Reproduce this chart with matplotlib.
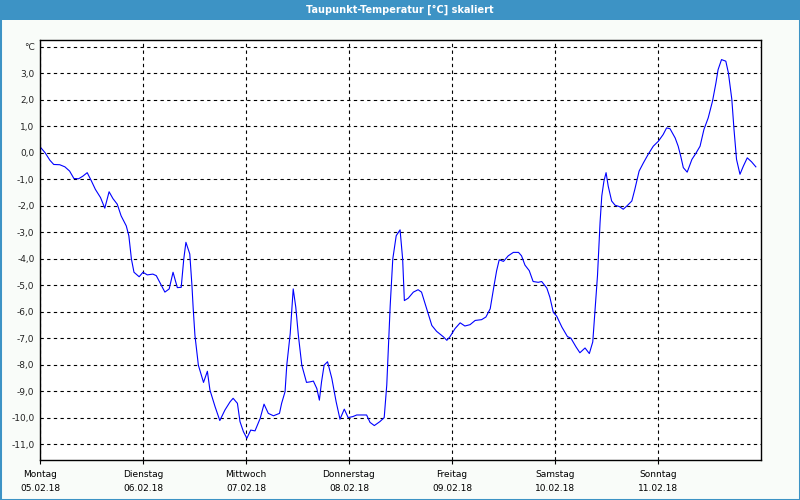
import matplotlib
matplotlib.use("Agg")
import matplotlib.pyplot as plt
from matplotlib.patches import Rectangle

# ---- data (hours since Monday 05.02.18 00:00, dew point in °C) ----
hours = [0.0, 1.2, 2.3, 3.2, 4.6, 5.8, 6.9, 7.9, 9.0, 10.0, 11.0, 12.0, 12.9, 14.1,
         15.1, 16.1, 17.0, 18.0, 18.9, 20.1, 20.7, 21.3, 21.9, 23.1, 24.0, 25.0,
         26.3, 27.1, 28.1, 29.1, 30.1, 31.0, 32.0, 32.9, 33.5, 34.0, 34.9, 35.4,
         35.7, 36.1, 36.9, 38.1, 39.0, 39.6, 40.8, 41.9, 43.1, 44.3, 45.0, 46.0,
         46.6, 47.4, 48.2, 49.1, 50.1, 51.3, 52.2, 53.2, 54.4, 55.8, 56.3, 57.1,
         57.5, 58.3, 59.0, 59.6, 60.2, 61.0, 62.1, 62.9, 63.7, 64.5, 65.1, 65.6,
         66.2, 67.0, 68.0, 69.0, 69.9, 70.9, 71.8, 72.9, 73.8, 76.1, 76.9, 77.9,
         79.2, 80.2, 80.8, 81.2, 81.6, 82.2, 83.0, 83.9, 84.5, 84.9, 85.8, 87.0,
         88.1, 88.9, 90.1, 91.3, 92.4, 94.0, 94.8, 95.5, 96.7, 97.9, 99.0, 100.2,
         101.4, 102.9, 103.9, 104.9, 105.8, 106.4, 107.0, 108.0, 109.1, 110.3,
         111.5, 112.2, 113.0, 114.0, 114.9, 116.1, 116.9, 118.1, 118.8, 119.6,
         120.4, 121.6, 122.9, 123.7, 124.9, 125.8, 127.0, 128.0, 128.8, 129.3,
         129.9, 130.3, 130.5, 130.9, 131.4, 131.9, 132.4, 133.2, 134.0, 135.0,
         135.9, 136.8, 137.9, 138.6, 139.6, 140.6, 141.7, 142.9, 144.1, 145.2,
         146.0, 146.8, 148.0, 148.7, 149.3, 149.9, 150.8, 151.9, 152.9, 153.8,
         154.7, 155.7, 156.7, 157.5, 158.0, 158.8, 159.8, 160.4, 161.2, 161.7,
         162.3, 163.1, 163.9, 164.8, 165.8, 166.8]
values = [0.23, 0.0, -0.28, -0.44, -0.45, -0.53, -0.69, -0.97, -0.98, -0.88, -0.75,
          -1.07, -1.38, -1.69, -2.09, -1.47, -1.73, -1.94, -2.38, -2.76, -3.13,
          -4.01, -4.51, -4.68, -4.51, -4.61, -4.58, -4.64, -4.95, -5.26, -5.14,
          -4.51, -5.09, -5.08, -4.01, -3.38, -3.82, -5.0, -5.89, -6.89, -8.02,
          -8.67, -8.25, -8.96, -9.59, -10.11, -9.71, -9.40, -9.27, -9.46, -10.15,
          -10.53, -10.78, -10.47, -10.5, -10.03, -9.49, -9.84, -9.93, -9.84,
          -9.46, -9.02, -8.02, -6.83, -5.14, -5.83, -6.89, -8.02, -8.67, -8.65,
          -8.62, -8.9, -9.34, -8.65, -8.02, -7.89, -8.52, -9.4, -10.06, -9.68,
          -10.0, -9.96, -9.9, -9.9, -10.18, -10.3, -10.15, -10.0, -8.77, -7.27,
          -5.77, -4.01, -3.13, -2.91, -4.01, -5.58, -5.49, -5.26, -5.17, -5.26,
          -5.89, -6.52, -6.74, -6.95, -7.08, -6.95, -6.64, -6.42, -6.54, -6.49,
          -6.33, -6.3, -6.2, -5.89, -5.01, -4.45, -4.04, -4.1, -3.89, -3.76,
          -3.76, -3.89, -4.24, -4.45, -4.86, -4.89, -4.86, -5.11, -5.45, -6.02,
          -6.17, -6.58, -6.94, -7.0, -7.33, -7.55, -7.37, -7.58, -7.14, -6.02,
          -4.64, -3.26, -2.63, -1.63, -1.07, -0.75, -1.26, -1.82, -1.98, -2.03,
          -2.13, -2.0, -1.82, -1.38, -0.69, -0.38, -0.06, 0.25, 0.44, 0.69,
          0.94, 0.91, 0.56, 0.25, -0.13, -0.56, -0.73, -0.25, 0.0, 0.25,
          0.88, 1.32, 1.95, 2.64, 3.14, 3.52, 3.46, 3.02, 2.02, 0.9,
          -0.25, -0.81, -0.5, -0.19, -0.34, -0.53]

day_names = ["Montag", "Dienstag", "Mittwoch", "Donnerstag", "Freitag", "Samstag", "Sonntag"]
day_dates = ["05.02.18", "06.02.18", "07.02.18", "08.02.18", "09.02.18", "10.02.18", "11.02.18"]
y_ticks = [4, 3, 2, 1, 0, -1, -2, -3, -4, -5, -6, -7, -8, -9, -10, -11]
title = "Taupunkt-Temperatur [°C] skaliert"

# ---- figure ----
W, H = 800, 500
fig = plt.figure(figsize=(W / 100, H / 100), dpi=100)
bg = "#f9fcf9"
border = "#3d93c5"
fig.patch.set_facecolor(bg)

# window border & title bar
fig.add_artist(Rectangle((0, 0), 1, 1, transform=fig.transFigure, fill=False,
                         edgecolor=border, linewidth=2.2))
fig.add_artist(Rectangle((0, 1 - 20 / H), 1, 20 / H, transform=fig.transFigure,
                         facecolor=border, edgecolor="none"))
fig.text(0.5, 1 - 10 / H, title, color="white", ha="center", va="center",
         fontsize=7, fontweight="bold", family="DejaVu Sans")

ax = fig.add_axes([40 / W, 40 / H, 721 / W, 420 / H])
ax.set_facecolor("white")
ax.plot(hours, values, color="#0000ff", linewidth=0.8)

ax.set_xlim(0, 168)
ax.set_ylim(-11.6, 4.26)

xt = [24 * i for i in range(7)]
ax.set_xticks(xt)
ax.set_xticklabels([f"{n}\n\n{d}" for n, d in zip(day_names, day_dates)],
                   fontsize=6.5, linespacing=0.75)
ax.set_yticks(y_ticks)
ax.set_yticklabels(["°C" if v == 4 else f"{v:.1f}".replace(".", ",") for v in y_ticks],
                   fontsize=6.5)
ax.tick_params(axis="x", length=3, width=0.8, pad=4, colors="black")
ax.tick_params(axis="y", length=0, pad=4, colors="black")
for lbl in ax.get_xticklabels():
    lbl.set_x(lbl.get_position()[0])
for lbl in ax.get_yticklabels():
    lbl.set_color("#222222")

ax.grid(True, color="black", linestyle=(0, (3, 3)), linewidth=0.8)
ax.set_axisbelow(True)
for s in ax.spines.values():
    s.set_color("black")
    s.set_linewidth(1.0)

fig.savefig("out.png", dpi=100, facecolor=bg)
